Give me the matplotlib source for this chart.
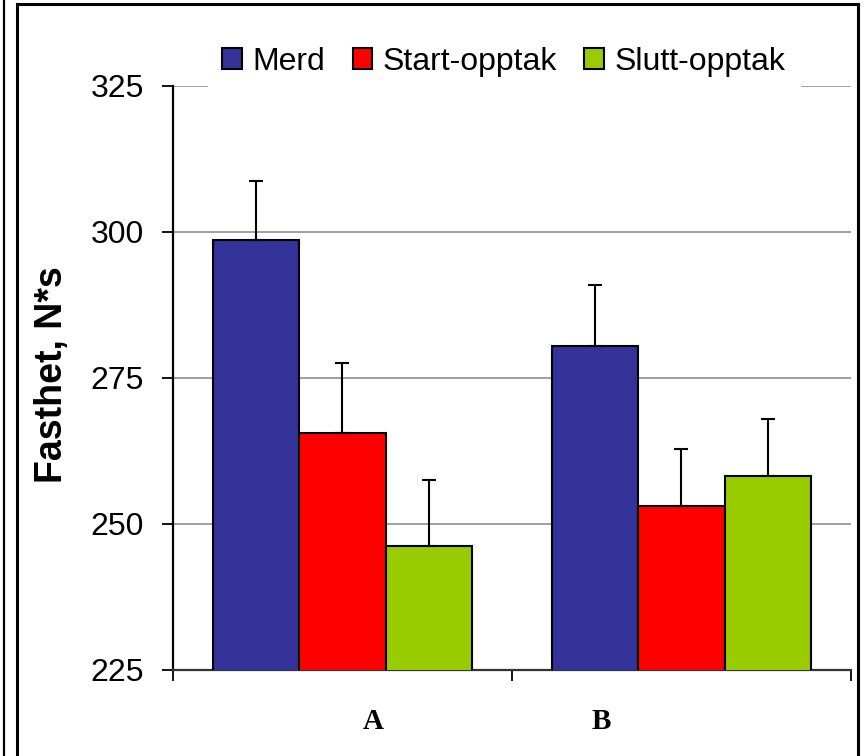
import matplotlib
matplotlib.use("Agg")
import matplotlib.pyplot as plt
import numpy as np
from matplotlib.lines import Line2D

plt.rcParams["font.family"] = ["Liberation Sans", "DejaVu Sans"]

# data
groups = ["A", "B"]
series = ["Merd", "Start-opptak", "Slutt-opptak"]
merd = [298.6, 280.5]
merd_err = [10.0, 10.4]
start = [265.6, 253.0]
start_err = [11.9, 9.7]
slutt = [246.1, 258.2]
slutt_err = [11.4, 9.7]
colors = ["#333399", "#FF0000", "#99CC00"]

values = [merd, start, slutt]
errors = [merd_err, start_err, slutt_err]

fig = plt.figure(figsize=(8.64, 7.56), dpi=100)
ax = fig.add_axes([0.2002, 0.1142, 0.7847, 0.7725])

x = np.arange(len(groups))
w = 0.255
for i, (vals, errs, col, name) in enumerate(zip(values, errors, colors, series)):
    pos = x + (i - 1) * w
    ax.bar(pos, vals, width=w, bottom=0, color=col, edgecolor="black",
           linewidth=1.5, label=name, zorder=3)
    ax.errorbar(pos, vals, yerr=[np.zeros(len(errs)), errs], fmt="none",
                ecolor="black", elinewidth=1.5, capsize=5, capthick=1.5, zorder=4)

ax.set_ylim(225, 325)
ax.set_xlim(-0.5, 1.5)
ax.set_yticks([225, 250, 275, 300, 325])
ax.tick_params(axis="y", labelsize=23, length=8, width=1.3, pad=13, direction="out")
ax.set_xticks([-0.5, 0.5, 1.5])
ax.set_xticklabels([])
ax.tick_params(axis="x", length=8, width=1.3, direction="out")
ax.yaxis.grid(True, color="#909090", linewidth=1.2, zorder=0)
ax.set_axisbelow(True)
for s in ["top", "right"]:
    ax.spines[s].set_visible(False)
ax.spines["left"].set_linewidth(1.6)
ax.spines["bottom"].set_linewidth(1.6)
ax.spines["bottom"].set_color("#333333")

# group labels (placed like the original, off-centre)
label_x = [0.296, 0.632]
for g, lx in zip(groups, label_x):
    ax.text(lx, -0.0887, g, transform=ax.transAxes, ha="center", va="center",
            fontsize=21, fontweight="bold", family=["Liberation Serif", "DejaVu Serif"])

fig.text(52 / 864, 1 - 375 / 756, "Fasthet, N*s", rotation=90, ha="center",
         va="center", fontsize=27, fontweight="bold")

leg = ax.legend(loc="center", bbox_to_anchor=(504 / 864, 1 - 62 / 756),
                bbox_transform=fig.transFigure, ncol=3, fontsize=23,
                frameon=True, fancybox=False, framealpha=1, edgecolor="white",
                handlelength=0.62, handleheight=0.62, handletextpad=0.33,
                columnspacing=0.85, borderpad=0.45)
leg.set_zorder(5)

# outer frame
lw = 2.2
fig.add_artist(Line2D([17 / 864, 17 / 864], [0, 1 - 4 / 756], color="black", lw=lw))
fig.add_artist(Line2D([858 / 864, 858 / 864], [0, 1 - 4 / 756], color="black", lw=lw))
fig.add_artist(Line2D([17 / 864, 858 / 864], [1 - 4 / 756, 1 - 4 / 756], color="black", lw=lw))
fig.add_artist(Line2D([4 / 864, 4 / 864], [0, 1], color="black", lw=1.6))

fig.savefig("out.png", dpi=100)
